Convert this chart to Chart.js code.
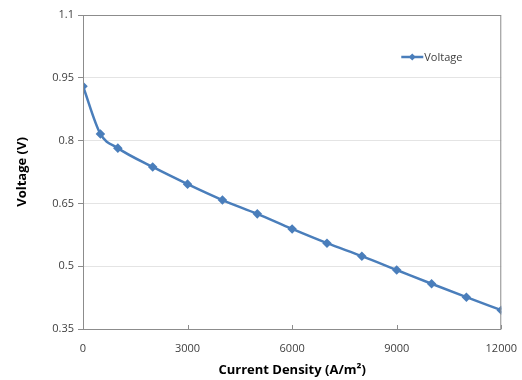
<!DOCTYPE html>
<html>
<head>
<meta charset="utf-8">
<script src="https://cdn.jsdelivr.net/npm/chart.js@4.4.0/dist/chart.umd.min.js"></script>
<style>
  html, body { margin: 0; padding: 0; background: #fff; }
  #wrap { width: 522px; height: 380px; }
</style>
</head>
<body>
<div id="wrap"><canvas id="c" width="522" height="380"></canvas></div>
<script>
// current density (A/m2) and voltage
const currentDensity = [0, 500, 1000, 2000, 3000, 4000, 5000, 6000, 7000, 8000, 9000, 10000, 11000, 12000];
const voltage = [0.930, 0.816, 0.782, 0.737, 0.696, 0.658, 0.625, 0.589, 0.555, 0.524, 0.491, 0.458, 0.426, 0.395];
const yTicks = [0.35, 0.5, 0.65, 0.8, 0.95, 1.1];
const xTicks = [0, 3000, 6000, 9000, 12000];

const lineColor = '#4a7ebb';
const tickFont = { family: 'Open Sans', size: 11 };

// box round the plot, inner x ticks and the legend inside the plot
const framePlugin = {
  id: 'frame',
  afterDraw(chart) {
    const ctx = chart.ctx;
    const a = chart.chartArea;
    const xs = chart.scales.x;
    ctx.save();
    ctx.strokeStyle = '#8c8c8c';
    ctx.lineWidth = 1;
    ctx.strokeRect(a.left + 0.5, a.top + 0.5, a.right - a.left - 1, a.bottom - a.top);
    ctx.beginPath();
    xTicks.forEach(v => {
      const px = Math.round(xs.getPixelForValue(v)) + 0.5;
      ctx.moveTo(px, a.bottom);
      ctx.lineTo(px, a.bottom - 4);
    });
    ctx.stroke();

    // legend
    const lx = a.right - 100, ly = a.top + 42;
    ctx.strokeStyle = lineColor;
    ctx.lineWidth = 2.5;
    ctx.beginPath();
    ctx.moveTo(lx, ly);
    ctx.lineTo(lx + 22, ly);
    ctx.stroke();
    ctx.fillStyle = lineColor;
    ctx.beginPath();
    ctx.moveTo(lx + 11, ly - 3.5);
    ctx.lineTo(lx + 14.5, ly);
    ctx.lineTo(lx + 11, ly + 3.5);
    ctx.lineTo(lx + 7.5, ly);
    ctx.closePath();
    ctx.fill();
    ctx.fillStyle = '#404040';
    ctx.font = '11px "Open Sans"';
    ctx.textBaseline = 'middle';
    ctx.fillText('Voltage', lx + 23, ly + 0.5);
    ctx.restore();
  }
};

new Chart(document.getElementById('c').getContext('2d'), {
  type: 'line',
  data: {
    datasets: [{
      label: 'Voltage',
      data: currentDensity.map((x, i) => ({ x: x, y: voltage[i] })),
      borderColor: lineColor,
      backgroundColor: lineColor,
      borderWidth: 2.5,
      pointStyle: 'rectRot',
      pointRadius: 3,
      tension: 0.3,
      cubicInterpolationMode: 'monotone'
    }]
  },
  options: {
    responsive: false,
    animation: false,
    layout: { padding: { left: 10, right: 2, top: 15, bottom: 0 } },
    plugins: {
      legend: { display: false },
      tooltip: { enabled: false }
    },
    scales: {
      x: {
        type: 'linear',
        min: 0,
        max: 12000,
        afterBuildTicks: s => { s.ticks = xTicks.map(v => ({ value: v })); },
        afterFit: s => { s.height = 51; },
        grid: { display: false },
        border: { display: false },
        ticks: { font: tickFont, color: '#404040', padding: 5, maxRotation: 0, callback: v => String(v) },
        title: {
          display: true,
          text: 'Current Density (A/m²)',
          font: { family: 'Open Sans', size: 13, weight: 'bold' },
          color: '#000',
          padding: { top: 4, bottom: 2 }
        }
      },
      y: {
        min: 0.35,
        max: 1.1,
        afterBuildTicks: s => { s.ticks = yTicks.map(v => ({ value: v })); },
        afterFit: s => { s.width = 73; },
        grid: { color: '#e4e4e4', tickLength: 5, tickColor: '#8c8c8c', drawTicks: true },
        border: { display: false },
        ticks: { font: tickFont, color: '#404040', padding: 4, callback: v => String(v) },
        title: {
          display: true,
          text: 'Voltage (V)',
          font: { family: 'Open Sans', size: 13, weight: 'bold' },
          color: '#000',
          padding: { top: 4, bottom: 8 }
        }
      }
    }
  },
  plugins: [framePlugin]
});
</script>
</body>
</html>
